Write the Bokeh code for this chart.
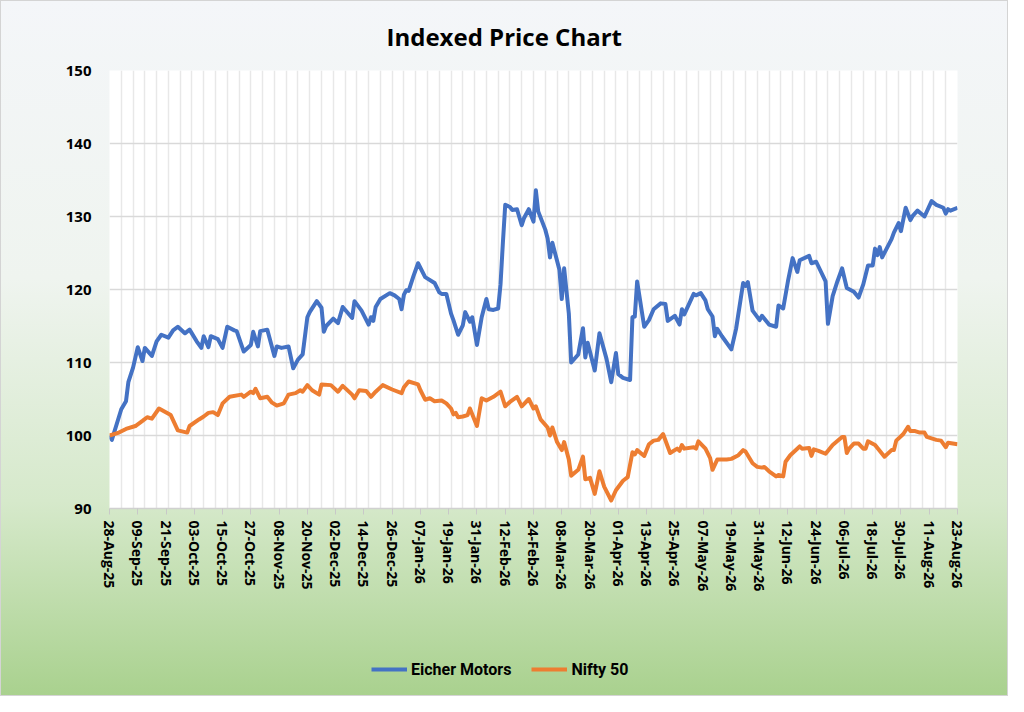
from bokeh.plotting import figure
from bokeh.layouts import column
from bokeh.models import FixedTicker, Legend, LegendItem
from bokeh.embed import file_html
from bokeh.resources import INLINE

# ---------------- data (days since 28-Aug-25, indexed price) ----------------
tick_labels = ["28-Aug-25", "09-Sep-25", "21-Sep-25", "03-Oct-25", "15-Oct-25", "27-Oct-25",
               "08-Nov-25", "20-Nov-25", "02-Dec-25", "14-Dec-25", "26-Dec-25", "07-Jan-26",
               "19-Jan-26", "31-Jan-26", "12-Feb-26", "24-Feb-26", "08-Mar-26", "20-Mar-26",
               "01-Apr-26", "13-Apr-26", "25-Apr-26", "07-May-26", "19-May-26", "31-May-26",
               "12-Jun-26", "24-Jun-26", "06-Jul-26", "18-Jul-26", "30-Jul-26", "11-Aug-26",
               "23-Aug-26"]
tick_days = [0, 12, 24, 36, 48, 60, 72, 84, 96, 108, 120, 132, 144, 156, 168, 180,
             192, 204, 216, 228, 240, 252, 264, 276, 288, 300, 312, 324, 336, 348, 360]
y_ticks = [90, 100, 110, 120, 130, 140, 150]

eicher_days = [0, 1, 5, 7, 8, 10, 12, 14, 15, 18,
               20, 22, 25, 27, 29, 32, 34, 37, 39, 40,
               42, 43, 46, 48, 50, 53, 54, 57, 60, 61,
               63, 64, 67, 70, 71, 73, 76, 78, 80, 82,
               84, 85, 88, 90, 91, 92, 95, 97, 99, 103,
               104, 107, 110, 111, 112, 113, 115, 119, 121, 123,
               124, 125, 126, 127, 129, 131, 134, 138, 140, 141,
               143, 145, 146, 148, 150, 151, 153, 154, 156, 158,
               160, 161, 163, 165, 166, 167, 168, 170, 171, 173,
               175, 176, 178, 180, 181, 182, 185, 186, 187, 188,
               191, 192, 193, 195, 196, 199, 201, 202, 203, 206,
               208, 211, 213, 215, 216, 218, 221, 222, 223, 224,
               227, 229, 231, 234, 236, 237, 240, 242, 243, 244,
               246, 248, 249, 251, 253, 254, 256, 257, 258, 260,
               264, 266, 269, 270, 271, 273, 276, 277, 280, 283,
               284, 286, 288, 290, 292, 293, 297, 298, 300, 304,
               305, 307, 309, 311, 313, 316, 318, 320, 322, 324,
               325, 326, 327, 328, 332, 333, 335, 336, 338, 340,
               341, 343, 346, 349, 351, 354, 355, 356, 357, 360]
eicher_values = [100.0, 99.4, 103.6, 104.7, 107.3, 109.3, 112.1, 110.2, 112.0, 110.9,
                 112.9, 113.8, 113.4, 114.4, 114.9, 114.0, 114.5, 112.9, 112.0, 113.6,
                 112.1, 113.6, 113.2, 112.0, 114.9, 114.4, 114.3, 111.5, 112.4, 114.2,
                 112.2, 114.3, 114.5, 110.9, 112.2, 112.0, 112.2, 109.2, 110.4, 111.1,
                 116.2, 116.9, 118.4, 117.5, 114.2, 115.0, 116.0, 115.4, 117.6, 116.1,
                 118.4, 117.1, 115.2, 116.2, 115.7, 117.6, 118.7, 119.5, 119.2, 118.7,
                 117.3, 119.3, 119.9, 119.8, 121.8, 123.6, 121.7, 120.9, 119.6, 119.4,
                 119.4, 116.7, 115.8, 113.8, 115.1, 116.9, 115.6, 116.2, 112.4, 116.2,
                 118.7, 117.3, 117.2, 117.4, 120.7, 126.4, 131.6, 131.3, 130.9, 131.0,
                 128.8, 129.8, 131.0, 129.3, 133.6, 130.7, 128.2, 127.0, 124.4, 126.4,
                 122.7, 118.7, 122.9, 116.7, 110.0, 111.1, 114.7, 110.7, 112.7, 108.9,
                 114.0, 110.5, 107.3, 111.3, 108.4, 107.9, 107.6, 116.2, 116.3, 121.1,
                 114.9, 115.8, 117.3, 118.1, 118.0, 115.7, 116.4, 115.2, 117.3, 116.6,
                 118.0, 119.4, 119.2, 119.5, 118.5, 117.3, 116.3, 113.6, 114.6, 113.6,
                 111.8, 114.6, 120.9, 120.5, 121.0, 117.1, 115.8, 116.4, 115.2, 114.9,
                 117.8, 117.4, 121.1, 124.3, 122.4, 124.0, 124.6, 123.6, 123.8, 121.1,
                 115.3, 119.1, 121.1, 122.9, 120.2, 119.7, 118.9, 120.7, 123.3, 123.3,
                 125.6, 124.7, 125.8, 124.4, 126.9, 127.8, 129.1, 128.0, 131.2, 129.5,
                 130.1, 130.8, 130.0, 132.1, 131.6, 131.2, 130.4, 131.0, 130.8, 131.2]

nifty_days = [0, 4, 7, 11, 14, 16, 18, 21, 26, 29,
              33, 34, 38, 40, 42, 44, 46, 48, 51, 56,
              57, 60, 61, 62, 64, 67, 69, 71, 74, 76,
              79, 81, 82, 84, 86, 89, 90, 94, 97, 99,
              103, 104, 106, 109, 111, 113, 116, 120, 124, 125,
              127, 131, 132, 134, 136, 138, 141, 143, 145, 146,
              147, 148, 150, 152, 153, 156, 158, 160, 163, 166,
              168, 170, 173, 175, 178, 180, 181, 183, 186, 187,
              188, 190, 192, 193, 195, 196, 199, 201, 202, 204,
              206, 208, 210, 213, 215, 218, 220, 222, 223, 224,
              227, 229, 231, 233, 235, 238, 241, 242, 243, 244,
              248, 249, 250, 253, 255, 256, 258, 262, 264, 267,
              269, 270, 273, 275, 277, 278, 280, 283, 284, 286,
              287, 289, 293, 294, 297, 298, 299, 301, 304, 307,
              311, 312, 313, 314, 316, 318, 320, 321, 322, 325,
              329, 332, 333, 334, 337, 339, 340, 342, 344, 346,
              347, 351, 353, 355, 356, 358, 360]
nifty_values = [100.0, 100.4, 100.9, 101.3, 102.0, 102.5, 102.3, 103.7, 102.8, 100.7,
                100.4, 101.3, 102.2, 102.6, 103.1, 103.2, 102.8, 104.4, 105.3, 105.6,
                105.3, 106.0, 105.8, 106.4, 105.1, 105.3, 104.5, 104.1, 104.4, 105.6,
                105.8, 106.2, 106.0, 106.9, 106.2, 105.6, 107.0, 106.9, 106.0, 106.8,
                105.6, 105.1, 106.2, 106.1, 105.3, 106.0, 106.9, 106.3, 105.8, 106.6,
                107.4, 107.0, 106.2, 104.9, 105.1, 104.7, 104.8, 104.4, 103.7, 102.9,
                103.1, 102.5, 102.6, 102.8, 103.7, 101.3, 105.1, 104.8, 105.3, 106.0,
                104.0, 104.6, 105.3, 104.0, 105.0, 103.7, 104.0, 102.2, 101.1, 100.0,
                101.1, 99.1, 98.0, 99.1, 96.7, 94.5, 95.3, 97.1, 94.0, 94.2,
                92.0, 95.1, 93.0, 91.1, 92.5, 93.8, 94.3, 97.7, 97.4, 98.0,
                97.2, 98.8, 99.3, 99.4, 100.2, 97.6, 98.2, 97.9, 98.7, 98.2,
                98.4, 98.2, 99.2, 98.2, 96.9, 95.3, 96.7, 96.7, 96.8, 97.3,
                98.0, 97.8, 96.2, 95.7, 95.6, 95.7, 95.1, 94.4, 94.6, 94.4,
                96.4, 97.3, 98.5, 98.2, 98.3, 97.2, 98.1, 97.9, 97.5, 98.7,
                99.8, 99.8, 97.6, 98.2, 98.9, 98.9, 98.2, 98.2, 99.2, 98.7,
                97.1, 98.0, 98.0, 99.3, 100.2, 101.2, 100.6, 100.6, 100.4, 100.4,
                99.8, 99.4, 99.3, 98.4, 99.0, 98.9, 98.8]

series_names = ["Eicher Motors", "Nifty 50"]
series_colors = ["#4472C4", "#ED7D31"]
line_w = 4

# ---------------- main chart ----------------
p = figure(width=1008, height=640, x_range=(0, 360), y_range=(90, 150),
           output_backend="svg", toolbar_location=None,
           min_border_left=109, min_border_right=51,
           min_border_top=68, min_border_bottom=132)
p.border_fill_color = None
p.background_fill_color = "white"
p.outline_line_color = None

p.title.text = "Indexed Price Chart"
p.title.align = "left"
p.title.offset = 277
p.title.text_font = "Open Sans"
p.title.text_font_style = "bold"
p.title.text_font_size = "24px"
p.title.text_color = "black"
p.title.standoff = 35

p.xgrid.ticker = FixedTicker(ticks=list(range(0, 361, 5)))
p.xgrid.grid_line_color = "#e8e8e8"
p.xgrid.grid_line_width = 1.5
p.ygrid.ticker = FixedTicker(ticks=y_ticks)
p.ygrid.grid_line_color = "#d9d9d9"
p.ygrid.grid_line_width = 1.5

p.xaxis.ticker = FixedTicker(ticks=tick_days)
p.xaxis.major_label_overrides = dict(zip(tick_days, tick_labels))
p.xaxis.major_label_orientation = "vertical"
p.xaxis.major_label_text_font = "Open Sans"
p.xaxis.major_label_text_font_style = "bold"
p.xaxis.major_label_text_font_size = "14px"
p.xaxis.major_label_text_color = "black"
p.xaxis.axis_line_color = "#d0d0d0"
p.xaxis.axis_line_width = 1.5
p.xaxis.major_tick_line_color = "#c8c8c8"
p.xaxis.major_tick_out = 6
p.xaxis.major_tick_in = 0
p.xaxis.minor_tick_line_color = None
p.xaxis.major_label_standoff = 6

p.yaxis.ticker = FixedTicker(ticks=y_ticks)
p.yaxis.axis_line_color = None
p.yaxis.major_tick_line_color = None
p.yaxis.minor_tick_line_color = None
p.yaxis.major_tick_out = 0
p.yaxis.major_label_standoff = 18
p.yaxis.major_label_text_font = "Open Sans"
p.yaxis.major_label_text_font_style = "bold"
p.yaxis.major_label_text_font_size = "15px"
p.yaxis.major_label_text_color = "black"

p.line(eicher_days, eicher_values, line_width=line_w, color=series_colors[0], line_join="round")
p.line(nifty_days, nifty_values, line_width=line_w, color=series_colors[1], line_join="round")

# ---------------- legend strip ----------------
lp = figure(width=1008, height=56, x_range=(0, 1), y_range=(0, 1),
            output_backend="svg", toolbar_location=None,
            x_axis_location=None, y_axis_location=None, min_border=0)
lp.border_fill_color = None
lp.background_fill_color = None
lp.outline_line_color = None
lp.grid.visible = False
# legend key renderers: their points lie outside the strip's range, only the keys show
k1 = lp.line([-2, -1], [-2, -1], line_width=line_w, color=series_colors[0])
k2 = lp.line([-2, -1], [-2, -1], line_width=line_w, color=series_colors[1])
legend = Legend(items=[LegendItem(label=series_names[0], renderers=[k1]),
                       LegendItem(label=series_names[1], renderers=[k2])],
                orientation="horizontal", location=(262, 17),
                glyph_width=36, glyph_height=20, label_standoff=4, spacing=20,
                padding=4, margin=0,
                label_text_font="Roboto", label_text_font_style="bold",
                label_text_font_size="16px", label_text_color="black",
                border_line_color=None, background_fill_alpha=0)
lp.add_layout(legend)

page = column(p, lp, spacing=0)
page.styles = {"background": "linear-gradient(180deg, #f4f6f9 0%, #eff4ef 40%, #d6e9cb 72%, #a9d18e 100%)",
               "box-shadow": "inset 0 0 0 1px #d4d4d4"}

open("out.html", "w").write(file_html(page, INLINE))
